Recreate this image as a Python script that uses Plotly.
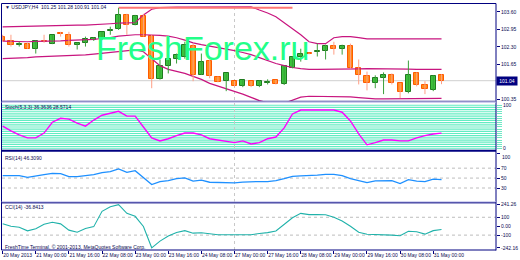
import plotly.graph_objects as go

# ---------------- data ----------------
opens = [102.68, 102.53, 102.38, 102.42, 102.23, 102.53, 102.42, 102.80, 102.75, 102.38,
         102.45, 102.57, 102.58, 102.88, 102.97, 103.49, 103.12, 103.45, 102.70, 101.09,
         101.57, 101.86, 101.94, 102.34, 101.27, 101.79, 101.16, 101.01, 101.02, 100.83,
         101.02, 100.83, 100.97, 101.05, 100.90, 101.53, 101.94, 102.06, 102.09, 102.16,
         102.34, 102.23, 102.34, 101.53, 101.20, 100.94, 101.13, 101.27, 100.94, 100.61,
         101.31, 100.87, 100.68, 101.25]
highs = [102.75, 102.75, 102.49, 102.45, 102.53, 102.75, 102.75, 102.86, 102.86, 102.46,
         102.68, 102.66, 102.86, 103.05, 103.75, 103.53, 103.49, 103.53, 102.75, 101.83,
         101.94, 102.05, 102.49, 102.42, 102.05, 101.83, 101.20, 101.31, 101.03, 101.07,
         101.03, 101.05, 101.09, 101.07, 101.57, 101.94, 102.23, 102.08, 102.42, 102.38,
         102.49, 102.38, 102.42, 101.83, 101.38, 101.24, 101.35, 101.31, 100.96, 101.79,
         101.35, 101.02, 101.24, 101.28]
lows = [102.49, 102.31, 102.31, 102.23, 102.05, 102.45, 102.40, 102.68, 102.31, 102.20,
        102.31, 102.52, 102.55, 102.75, 102.93, 102.75, 103.10, 102.68, 100.76, 101.08,
        101.31, 101.68, 101.86, 101.02, 101.25, 101.13, 100.98, 100.65, 100.82, 100.80,
        100.80, 100.80, 100.90, 100.90, 100.88, 101.50, 101.75, 102.02, 101.94, 101.83,
        102.01, 102.01, 101.49, 100.90, 100.68, 100.76, 100.54, 100.90, 100.39, 100.57,
        100.83, 100.54, 100.65, 100.91]
closes = [102.53, 102.38, 102.42, 102.23, 102.53, 102.49, 102.75, 102.78, 102.38, 102.45,
          102.60, 102.62, 102.86, 102.92, 103.49, 103.12, 103.45, 102.68, 101.09, 101.57,
          101.86, 102.01, 102.38, 101.27, 101.75, 101.20, 100.98, 101.31, 100.83, 101.05,
          100.83, 101.02, 100.99, 100.90, 101.57, 101.94, 102.05, 102.04, 102.16, 102.34,
          102.23, 102.34, 101.53, 101.24, 100.94, 101.13, 101.24, 100.94, 100.61, 101.27,
          100.87, 100.72, 101.20, 101.04]

bb_upper = [103.04, 103.05, 103.05, 103.06, 103.07, 103.08, 103.09, 103.10, 103.10, 103.11,
            103.11, 103.12, 103.13, 103.16, 103.18, 103.19, 103.20, 103.49, 103.70, 103.76,
            103.78, 103.78, 103.78, 103.78, 103.79, 103.79, 103.79, 103.79, 103.79, 103.79,
            103.79, 103.67, 103.56, 103.42, 103.19, 102.99, 102.75, 102.49, 102.42, 102.42,
            102.64, 102.68, 102.68, 102.64, 102.60, 102.60, 102.60, 102.60, 102.60, 102.60,
            102.60, 102.60, 102.60, 102.60]
bb_mid = [102.51, 102.50, 102.49, 102.49, 102.50, 102.50, 102.51, 102.52, 102.54, 102.55,
          102.56, 102.58, 102.61, 102.64, 102.70, 102.73, 102.75, 102.75, 102.75, 102.73,
          102.70, 102.64, 102.55, 102.45, 102.38, 102.33, 102.27, 102.21, 102.16, 102.09,
          102.01, 101.90, 101.79, 101.68, 101.60, 101.53, 101.49, 101.46, 101.46, 101.46,
          101.46, 101.47, 101.48, 101.48, 101.49, 101.49, 101.49, 101.48, 101.47, 101.47,
          101.46, 101.46, 101.46, 101.46]
bb_lower = [101.86, 101.87, 101.88, 101.90, 101.93, 101.94, 101.95, 101.95, 101.96, 101.97,
            102.00, 102.03, 102.06, 102.10, 102.14, 102.17, 102.19, 102.12, 101.86, 101.60,
            101.46, 101.38, 101.31, 101.20, 101.09, 100.94, 100.84, 100.73, 100.65, 100.54,
            100.42, 100.30, 100.22, 100.18, 100.20, 100.33, 100.43, 100.46, 100.46, 100.46,
            100.46, 100.45, 100.44, 100.41, 100.38, 100.36, 100.36, 100.36, 100.36, 100.38,
            100.38, 100.38, 100.38, 100.38]

stoch = [52, 41, 32, 25, 25, 36, 61, 70, 68, 59, 52, 66, 77, 82, 86, 75, 75, 50, 25, 18,
         23, 30, 36, 36, 32, 23, 20, 18, 14, 18, 11, 14, 23, 27, 48, 80, 89, 89, 89, 89,
         89, 84, 64, 34, 9, 14, 20, 20, 18, 18, 25, 30, 34, 36]
rsi = [55, 55, 55, 51.6, 55, 57, 59.6, 59, 53, 53, 55, 57, 61, 63, 68.4, 61.6, 65, 51, 37, 43,
       45, 49, 50.4, 44, 46, 41.6, 41.6, 41.6, 40.4, 42, 43, 43, 43, 45, 49, 53.6, 54.6, 55, 56, 57.6,
       57.6, 55, 49, 45, 41, 44.4, 45, 45, 39, 47, 44, 43, 48, 47]
cci = [28, 0, -11, -52, -28, 22, 44, 26, -44, -67, -26, -5, 167, 217, 241.26, 144, 111, -3, -242.16, -167,
       -111, -71, -50, -78, -74, -89, -96, -96, -96, -96, -96, -81, -72, -54, 22, 94, 144, 130, 130, 128,
       100, 59, 0, -67, -91, -92, -92, -100, -107, -56, -63, -89, -50, -37]

stoch_levels = list(range(0, 101, 5))
rsi_levels = [70, 50, 30]
cci_levels = [100, -100]

xtick_bars = list(range(0, 53, 4))
xtick_labels = ["20 May 2013", "21 May 00:00", "21 May 16:00", "22 May 08:00", "23 May 00:00",
                "23 May 16:00", "24 May 08:00", "27 May 00:00", "27 May 16:00", "28 May 08:00",
                "29 May 00:00", "29 May 16:00", "30 May 08:00", "31 May 00:00"]
price_ticks = [103.60, 102.95, 102.30, 101.65, 100.35]
cci_ticks = [241.26, 100, 0, -100, -242.16]
cci_tick_labels = ["241.26", "100", "0.00", "-100", "-242.16"]
rsi_ticks = [70, 50, 30]
bid = 101.04
separator_bars = [28]
high_line_price = 103.76
high_line_bars = [14, 35]

title_main = "\u25BC USDJPY,H4  101.25 101.28 100.91 101.04"
title_stoch = "Stoch(5,3,3) 36.3636 28.5714"
title_rsi = "RSI(14) 46.3090"
title_cci = "CCI(14) -36.8413"
footer = "FreshTime Terminal, \u00A9 2001-2013, MetaQuotes Software Corp."
watermark = "FreshForex.ru"

# ---------------- styling ----------------
NAVY = "#000080"
TXT = "#0a0a50"
FONT = "Liberation Sans, Arial, sans-serif"
FS = 5

n = len(opens)
bars = list(range(n))
bull = [i for i in bars if closes[i] >= opens[i]]
bear = [i for i in bars if closes[i] < opens[i]]


def wick_xy(idx):
    xs, ys = [], []
    for i in idx:
        xs += [i, i, None]
        ys += [lows[i], highs[i], None]
    return xs, ys


fig = go.Figure()

# Bollinger bands
for vals in (bb_upper, bb_mid, bb_lower):
    fig.add_trace(go.Scatter(x=bars, y=vals, mode="lines", xaxis="x", yaxis="y",
                             line=dict(color="#c8157f", width=1.2), hoverinfo="skip"))
# horizontal high line object
fig.add_trace(go.Scatter(x=high_line_bars, y=[high_line_price] * 2, mode="lines", xaxis="x", yaxis="y",
                         line=dict(color="#ff7474", width=2), hoverinfo="skip"))
# wicks
bx, by = wick_xy(bull)
fig.add_trace(go.Scatter(x=bx, y=by, mode="lines", xaxis="x", yaxis="y",
                         line=dict(color="#3a9f3a", width=1), hoverinfo="skip"))
sx, sy = wick_xy(bear)
fig.add_trace(go.Scatter(x=sx, y=sy, mode="lines", xaxis="x", yaxis="y",
                         line=dict(color="#ff9f85", width=1), hoverinfo="skip"))
# bodies
fig.add_trace(go.Bar(x=bull, y=[closes[i] - opens[i] for i in bull], base=[opens[i] for i in bull],
                     width=0.62, xaxis="x", yaxis="y",
                     marker=dict(color="#3cc23c", line=dict(color="#1f7a1f", width=1))))
fig.add_trace(go.Bar(x=bear, y=[opens[i] - closes[i] for i in bear], base=[closes[i] for i in bear],
                     width=0.62, xaxis="x", yaxis="y",
                     marker=dict(color="#ff8c1a", line=dict(color="#ff5a00", width=1))))

# Stochastic
fig.add_trace(go.Scatter(x=bars, y=stoch, mode="lines", xaxis="x2", yaxis="y2",
                         line=dict(color="#ff00ff", width=1.4), hoverinfo="skip"))
# RSI
fig.add_trace(go.Scatter(x=bars, y=rsi, mode="lines", xaxis="x3", yaxis="y3",
                         line=dict(color="#1e90ff", width=1.3), hoverinfo="skip"))
# CCI
fig.add_trace(go.Scatter(x=bars, y=cci, mode="lines", xaxis="x4", yaxis="y4",
                         line=dict(color="#20b2aa", width=1.1), hoverinfo="skip"))

# ---------------- layout ----------------
W, H = 520, 260
ML, MR, MT, MB = 2, 21, 2, 10
PW, PH = W - ML - MR, H - MT - MB


def py(pix):  # pixel y -> paper
    return (H - MB - pix) / PH


def px(pix):  # pixel x -> paper
    return (pix - ML) / PW


xr = [-0.08, 59.58]
base_x = dict(range=xr, showgrid=False, zeroline=False, showline=False, ticks="",
              showticklabels=False, fixedrange=True)
base_y = dict(side="right", showgrid=False, zeroline=False, showline=False, ticks="outside",
              ticklen=3, tickwidth=1, tickcolor=NAVY, fixedrange=True,
              tickfont=dict(family=FONT, size=FS, color=TXT))

layout = dict(
    width=W, height=H, margin=dict(l=ML, r=MR, t=MT, b=MB),
    paper_bgcolor="white", plot_bgcolor="white", showlegend=False,
    barmode="overlay", bargap=0,
    xaxis={**base_x, "anchor": "y"},
    xaxis2={**base_x, "anchor": "y2", "matches": "x"},
    xaxis3={**base_x, "anchor": "y3", "matches": "x"},
    xaxis4={**base_x, "anchor": "y4", "matches": "x", "ticks": "outside", "ticklen": 3,
            "tickcolor": NAVY, "tickvals": xtick_bars, "ticktext": xtick_labels,
            "showticklabels": True, "ticklabelposition": "outside right", "tickangle": 0,
            "ticklabelstandoff": 0,
            "tickfont": dict(family=FONT, size=FS, color=TXT)},
    yaxis={**base_y, "anchor": "x", "domain": [py(100), py(2)], "range": [100.276, 103.895],
           "tickvals": price_ticks, "ticktext": [f"{v:.2f}" for v in price_ticks]},
    yaxis2={**base_y, "anchor": "x2", "domain": [py(149), py(101)], "range": [-2.5, 107],
            "tickvals": stoch_levels, "tickcolor": "#6fe8c4", "ticklen": 5,
            "ticktext": ["100" if v == 100 else ("0" if v == 0 else "") for v in stoch_levels]},
    yaxis3={**base_y, "anchor": "x3", "domain": [py(201), py(151)], "range": [3, 103],
            "tickvals": rsi_ticks + [100], "ticktext": [str(v) for v in rsi_ticks] + [""]},
    yaxis4={**base_y, "anchor": "x4", "domain": [0, py(203)], "range": [-266.7, 255.6],
            "tickvals": cci_ticks, "ticktext": cci_tick_labels},
)
fig.update_layout(**layout)

shapes = []
# stochastic level lines
for lv in stoch_levels:
    shapes.append(dict(type="line", xref="x2 domain", x0=0, x1=1, yref="y2", y0=lv, y1=lv,
                       line=dict(color="#62ecc2", width=1.2), layer="below"))
for lv in rsi_levels:
    shapes.append(dict(type="line", xref="x3 domain", x0=0, x1=1, yref="y3", y0=lv, y1=lv,
                       line=dict(color="#bdbdbd", width=1, dash="dot"), layer="below"))
for lv in cci_levels:
    shapes.append(dict(type="line", xref="x4 domain", x0=0, x1=1, yref="y4", y0=lv, y1=lv,
                       line=dict(color="#bdbdbd", width=1, dash="dot"), layer="below"))
# current price line
shapes.append(dict(type="line", xref="x domain", x0=0, x1=1, yref="y", y0=bid, y1=bid,
                   line=dict(color="#cfcfcf", width=1), layer="below"))
# period separators
for sb in separator_bars:
    shapes.append(dict(type="line", xref="x", x0=sb, x1=sb, yref="paper", y0=0, y1=1,
                       line=dict(color="#c8c8c8", width=1, dash="dot"), layer="below"))
# frame and panel separators
frame = [
    (px(1.5), py(1.5), px(1.5), py(250), NAVY, 1),
    (px(1.5), py(1.5), px(499), py(1.5), NAVY, 1),
    (px(499), py(1.5), px(499), py(250.5), NAVY, 1),
    (px(1.5), py(250), px(499), py(250), NAVY, 1),
    (px(1.5), py(100), px(499), py(100), "#4a4aa0", 1),
    (px(1.5), py(101), px(499), py(101), "#b8b8e8", 1),
    (px(1.5), py(150), px(499), py(150), NAVY, 2),
    (px(1.5), py(201.5), px(499), py(201.5), "#b8b8e8", 1),
    (px(1.5), py(202.5), px(499), py(202.5), NAVY, 1),
]
for x0, y0, x1, y1, c, w in frame:
    shapes.append(dict(type="line", xref="paper", yref="paper", x0=x0, y0=y0, x1=x1, y1=y1,
                       line=dict(color=c, width=w)))
fig.update_layout(shapes=shapes)

small = dict(family=FONT, size=FS, color=TXT)
ann = [
    dict(text=watermark, xref="paper", yref="paper", x=px(95), y=py(46), xanchor="left",
         yanchor="middle", showarrow=False,
         font=dict(family=FONT, size=34, color="#22ff88")),
    dict(text=title_main, xref="paper", yref="paper", x=px(3), y=py(5.5), xanchor="left",
         yanchor="middle", showarrow=False, font=small),
    dict(text=title_stoch, xref="paper", yref="paper", x=px(3), y=py(106), xanchor="left",
         yanchor="middle", showarrow=False, font=small),
    dict(text=title_rsi, xref="paper", yref="paper", x=px(3), y=py(157), xanchor="left",
         yanchor="middle", showarrow=False, font=small),
    dict(text=title_cci, xref="paper", yref="paper", x=px(3), y=py(207), xanchor="left",
         yanchor="middle", showarrow=False, font=small),
    dict(text=footer, xref="paper", yref="paper", x=px(3), y=py(246.5), xanchor="left",
         yanchor="middle", showarrow=False, font=small),
    dict(text=f"{bid:.2f}", xref="paper", yref="y", x=1, y=bid, xanchor="left", yanchor="middle",
         showarrow=False, bgcolor=NAVY, borderpad=1, width=18,
         font=dict(family=FONT, size=FS, color="white")),
    dict(text="100", xref="paper", yref="y3", x=1, y=100, xanchor="left", yanchor="middle",
         xshift=4, yshift=-3.5, showarrow=False, font=small),
    dict(text="0", xref="paper", yref="y3", x=1, y=0, xanchor="left", yanchor="middle",
         xshift=4, yshift=5.5, showarrow=False, font=small),
]
fig.update_layout(annotations=ann)

fig.write_html("out.html", config={"displayModeBar": False})
